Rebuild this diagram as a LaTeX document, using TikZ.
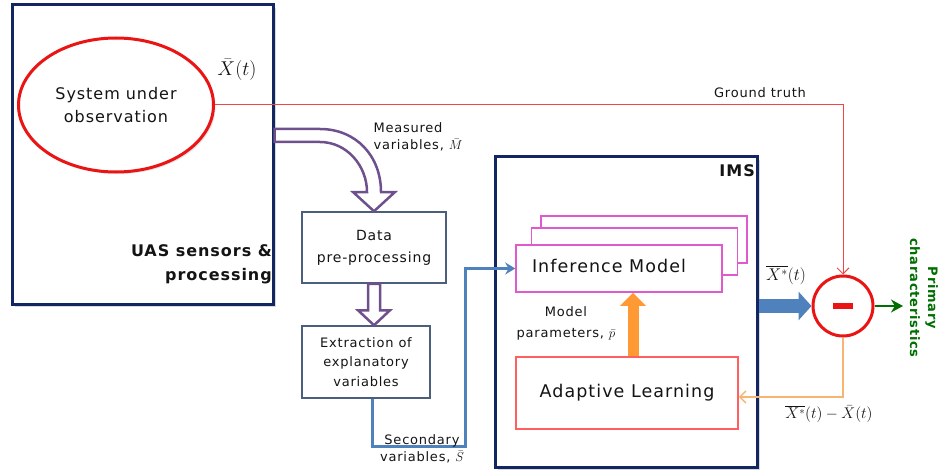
\documentclass[tikz,border=0pt]{standalone}
\usepackage{fix-cm}
\usepackage{amsmath}
\usepackage{fontspec}
\setmainfont{DejaVu Sans}[LetterSpace=6]
\usetikzlibrary{shapes.geometric,arrows.meta,shadows,calc}

\definecolor{navyline}{RGB}{18,38,98}
\definecolor{sysred}{RGB}{235,20,20}
\definecolor{slateline}{RGB}{75,95,125}
\definecolor{steelblue}{RGB}{79,129,189}
\definecolor{modelpink}{RGB}{225,90,205}
\definecolor{learnred}{RGB}{255,95,95}
\definecolor{paramorange}{RGB}{255,153,51}
\definecolor{errorange}{RGB}{248,180,115}
\definecolor{truthred}{RGB}{240,70,70}
\definecolor{measpurple}{RGB}{110,80,140}
\definecolor{outgreen}{RGB}{0,110,0}
\definecolor{labelgray}{RGB}{20,20,20}

\begin{document}
\begin{tikzpicture}[
      x=1pt, y=-1pt,
      every node/.style={text=labelgray},
      mainbox/.style={rectangle, draw=navyline, line width=3pt, fill=white,
        drop shadow={shadow xshift=3pt, shadow yshift=-3pt, opacity=0.3}},
      sysnode/.style={ellipse, draw=sysred, line width=3pt, fill=white,
        minimum width=195pt, minimum height=134pt, align=center,
        font=\fontsize{16}{23}\selectfont,
        drop shadow={shadow xshift=2pt, shadow yshift=-2pt, opacity=0.2}},
      stepbox/.style={rectangle, draw=slateline, line width=1.5pt, fill=white, align=center},
      modelbox/.style={rectangle, draw=modelpink, line width=1.5pt, fill=white,
        minimum width=206pt, minimum height=47pt},
      learnbox/.style={rectangle, draw=learnred, line width=1.5pt, fill=white,
        minimum width=222pt, minimum height=72pt, font=\fontsize{17.5}{20}\selectfont},
      hollow/.style={draw=measpurple, line width=2.5pt, fill=white},
      truthline/.style={draw=truthred, line width=1pt, -{Straight Barb[length=6pt,width=12pt]}},
      errline/.style={draw=errorange, line width=1.5pt, -{Straight Barb[length=6pt,width=12pt]}},
      secline/.style={draw=steelblue, line width=3pt, -{Stealth[length=10pt,width=12pt]}},
      paramarrow/.style={draw=paramorange, line width=11pt, -{Triangle[length=13pt,width=25pt]}},
      estarrow/.style={draw=steelblue, line width=14pt, -{Triangle[length=13pt,width=28pt]}},
      outarrow/.style={draw=outgreen, line width=2.5pt, -{Stealth[length=12pt,width=13pt]}},
      smalltext/.style={font=\fontsize{13}{17}\selectfont},
    ]
\useasboundingbox (0,0) rectangle (941,473);

\node[mainbox, minimum width=261pt, minimum height=299pt] (uas) at (142.5,154.5) {};
\node[sysnode] (sys) at (116,105) {System under\\observation};
\node[font=\fontsize{20}{24}\selectfont] (xbar) at (237,70) {$\bar{X}(t)$};
\node[font=\bfseries\fontsize{16}{24}\selectfont, align=right, anchor=east, inner sep=0pt]
  (uaslab) at (272,264) {UAS sensors \&\\processing};

\node[stepbox, minimum width=144pt, minimum height=71pt, font=\fontsize{14}{22}\selectfont]
  (pre) at (374,247.5) {Data\\pre-processing};
\node[stepbox, minimum width=128pt, minimum height=72pt, font=\fontsize{13}{19.5}\selectfont]
  (ext) at (366,362) {Extraction of\\explanatory\\variables};

\node[mainbox, minimum width=262pt, minimum height=310pt] (ims) at (626,312) {};
\node[font=\bfseries\fontsize{16}{18}\selectfont, anchor=east, inner sep=1pt] (imslab) at (756,171) {IMS};
\node[modelbox] (infback) at (644,239.5) {};
\node[modelbox] (infmid) at (634.5,251.5) {};
\node[modelbox] (inf) at (619,268.5) {};
\node[font=\fontsize{17.5}{20}\selectfont] (inflab) at (609,266) {Inference Model};
\node[learnbox] (adapt) at (627,393) {Adaptive Learning};
\node[smalltext, align=center, font=\fontsize{13}{21}\selectfont] (parlab) at (566,323) {Model\\parameters, $\bar{p}$};

\node[circle, draw=sysred, line width=3pt, fill=white, minimum size=60pt] (minus) at (843,306) {};
\draw[sysred, line width=6pt] ([xshift=-10pt]minus.center) -- ([xshift=10pt]minus.center);
\node[font=\bfseries\fontsize{13}{18}\selectfont, text=outgreen, rotate=-90, align=center]
  (prim) at (924,298) {Primary\\characteristics};
\coordinate (primout) at (903,306);

\draw[truthline] (sys.east) -| (minus.north);
\node[smalltext] (gt) at (760,93) {Ground truth};

\draw[hollow] (uas.east |- 0,129) -- (320,129) .. controls (356,129) and (381,156) .. (381,192)
  -- (395,192) -- (pre.north) -- (353,192) -- (367,192)
  .. controls (367,166) and (347,142) .. (320,142) -- (uas.east |- 0,142) -- cycle;
\node[smalltext, align=left, anchor=west] (meas) at (370,137) {Measured\\variables, $\bar{M}$};

\draw[hollow] (pre.south |- ext.north) -- ++(-16,-15) -- ++(10,0) -- ([xshift=-6pt]pre.south)
  -- ([xshift=6pt]pre.south) -- ($(pre.south |- ext.north)+(6,-15)$) -- ++(10,0) -- cycle;

\coordinate (secturn) at (465,446);
\draw[secline] ([xshift=6pt]ext.south) |- (secturn) |- (inf.west);
\node[smalltext, align=center] (seclab) at (422,449) {Secondary\\variables, $\bar{S}$};

\coordinate (parbase) at ([xshift=6pt]adapt.north);
\draw[paramarrow] (parbase) -- (parbase |- inf.south);

\draw[estarrow] (ims.east |- minus.west) -- (minus.west);
\node[font=\fontsize{17}{20}\selectfont] (estlab) at (786,275) {$\overline{X^{*}}(t)$};

\draw[outarrow] (minus.east) -- (primout);

\draw[errline] (minus.south) |- ([yshift=-4pt]adapt.east);
\node[font=\fontsize{15.5}{18}\selectfont] (errlab) at (829,414) {$\overline{X^{*}}(t)-\bar{X}(t)$};
\end{tikzpicture}
\end{document}
